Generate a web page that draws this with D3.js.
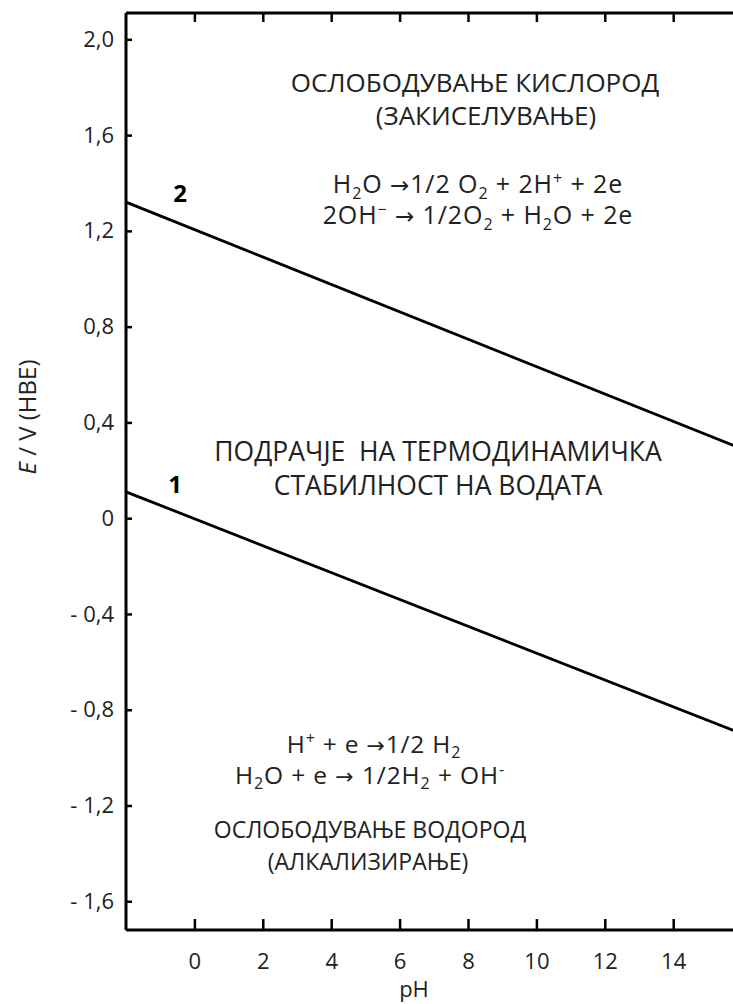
<!DOCTYPE html>
<html>
<head>
<meta charset="utf-8">
<script src="https://cdn.jsdelivr.net/npm/d3@7"></script>
<style>
  html, body { margin: 0; padding: 0; background: #fff; }
  svg { display: block; font-family: "Open Sans", "Noto Sans", sans-serif; }
</style>
</head>
<body>
<svg id="chart" width="733" height="1004"></svg>
<script>
// ---- data ----
const pHRange = [-2, 16];
const line1E = [0.11, -0.90];   // line 1 (hydrogen)
const line2E = [1.32, 0.29];    // line 2 (oxygen)
const xTicks = [0, 2, 4, 6, 8, 10, 12, 14];
const yTicks = [-1.6, -1.2, -0.8, -0.4, 0, 0.4, 0.8, 1.2, 1.6, 2.0];
const yTickLabels = ["- 1,6", "- 1,2", "- 0,8", "- 0,4", "0", "0,4", "0,8", "1,2", "1,6", "2,0"];
const xTitle = "pH";
const lineLabels = ["1", "2"];

const svg = d3.select("#chart");
const mLeft = 126, mTop = 13, mBottom = 930;
const x = d3.scaleLinear().domain([-2, 16]).range([mLeft, mLeft + 18 * 34.2]);
const y = d3.scaleLinear().domain([-1.72, 2.11]).range([mBottom, mTop]);
const TXT = "#222";

// axes
const gL = svg.append("g").attr("transform", `translate(${mLeft},0)`)
  .call(d3.axisLeft(y).tickValues(yTicks).tickSizeInner(-6).tickSizeOuter(0).tickPadding(12)
    .tickFormat((d, i) => yTickLabels[i]));
const gB = svg.append("g").attr("transform", `translate(0,${mBottom})`)
  .call(d3.axisBottom(x).tickValues(xTicks).tickSizeInner(-11).tickSizeOuter(0).tickPadding(23)
    .tickFormat(d => d));
const gT = svg.append("g").attr("transform", `translate(0,${mTop})`)
  .call(d3.axisTop(x).tickValues(xTicks).tickSizeInner(-9).tickSizeOuter(0).tickFormat(""));

[gL, gB, gT].forEach(g => {
  g.select(".domain").attr("stroke", "#000").attr("stroke-width", 3);
  g.selectAll(".tick line").attr("stroke", "#000").attr("stroke-width", 2.5);
  g.selectAll(".tick text").attr("fill", TXT).style("font-size", "22px")
    .style("font-family", '"Open Sans", sans-serif');
});
gL.select(".domain").attr("d", `M0,${mTop}V${mBottom}`);
gB.select(".domain").attr("d", `M${mLeft},0H733`);
gT.select(".domain").attr("d", `M${mLeft},0H733`);
gB.selectAll(".tick text").attr("dy", "0.71em");

// lines
const lineGen = d3.line().x(d => x(d[0])).y(d => y(d[1]));
[line1E, line2E].forEach(E => {
  svg.append("path")
    .datum(pHRange.map((p, i) => [p, E[i]]))
    .attr("d", lineGen)
    .attr("fill", "none").attr("stroke", "#000").attr("stroke-width", 2.8);
});

// line labels
svg.append("text").attr("x", 175).attr("y", 493).attr("text-anchor", "middle")
  .style("font-size", "24px").style("font-weight", "bold").text(lineLabels[0]);
svg.append("text").attr("x", 180).attr("y", 202).attr("text-anchor", "middle")
  .style("font-size", "24px").style("font-weight", "bold").text(lineLabels[1]);

// axis titles
svg.append("text").attr("x", 414).attr("y", 997).attr("text-anchor", "middle")
  .style("font-size", "22px").attr("fill", TXT).text(xTitle);
const yt = svg.append("text").attr("transform", "translate(36,417) rotate(-90)")
  .attr("text-anchor", "middle").style("font-size", "24px").attr("fill", TXT);
yt.append("tspan").style("font-style", "italic").text("E");
yt.append("tspan").text(" / V (НВЕ)");

// rich text helper
function rich(cx, cy, parts, size, ls) {
  const t = svg.append("text").attr("x", cx).attr("y", cy).attr("text-anchor", "middle")
    .style("font-size", size + "px").attr("fill", TXT);
  if (ls) t.style("letter-spacing", ls + "px");
  let shift = 0;
  parts.forEach(([s, k]) => {
    const target = k === "sub" ? size * 0.22 : k === "sup" ? -size * 0.36 : 0;
    const ts = t.append("tspan").text(s).attr("dy", target - shift);
    if (k === "sub" || k === "sup") ts.style("font-size", Math.round(size * 0.64) + "px");
    if (k === "arr") ts.style("font-family", '"DejaVu Sans", sans-serif').style("font-size", Math.round(size * 0.9) + "px");
    shift = target;
  });
  return t;
}

const AR = "\u2192";
// top region
rich(475, 92, [["ОСЛОБОДУВАЊЕ КИСЛОРОД", "n"]], 26);
rich(486, 125, [["(ЗАКИСЕЛУВАЊЕ)", "n"]], 26);
rich(478, 193, [["H", "n"], ["2", "sub"], ["O ", "n"], [AR, "arr"], ["1/2 O", "n"], ["2", "sub"], [" + 2H", "n"], ["+", "sup"], [" + 2e", "n"]], 25, 0.9);
rich(478, 224, [["2OH", "n"], ["\u2212", "sup"], [" ", "n"], [AR, "arr"], [" 1/2O", "n"], ["2", "sub"], [" + H", "n"], ["2", "sub"], ["O + 2e", "n"]], 25, 0.9);
// middle
rich(438, 461, [["ПОДРАЧЈЕ\u00a0 НА ТЕРМОДИНАМИЧКА", "n"]], 26.5);
rich(438, 495, [["СТАБИЛНОСТ НА ВОДАТА", "n"]], 26.5);
// bottom region
rich(374, 753, [["H", "n"], ["+", "sup"], [" + e ", "n"], [AR, "arr"], ["1/2 H", "n"], ["2", "sub"]], 24.5, 0.8);
rich(370, 784, [["H", "n"], ["2", "sub"], ["O + e ", "n"], [AR, "arr"], [" 1/2H", "n"], ["2", "sub"], [" + OH", "n"], ["-", "sup"]], 24.5, 0.9);
rich(370, 838, [["ОСЛОБОДУВАЊЕ ВОДОРОД", "n"]], 23);
rich(368, 870, [["(АЛКАЛИЗИРАЊЕ)", "n"]], 23);
</script>
</body>
</html>
